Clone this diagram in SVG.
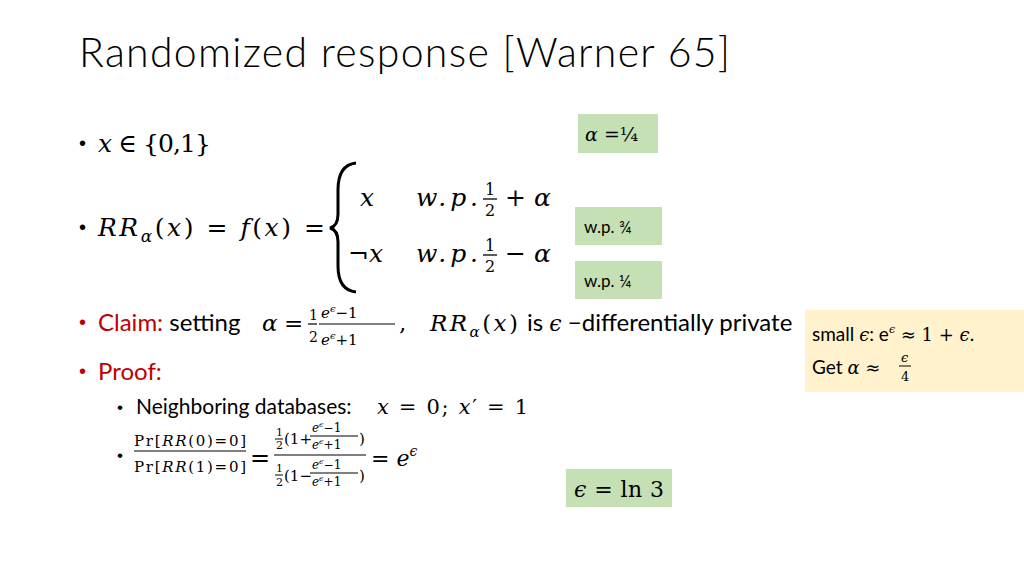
<svg xmlns="http://www.w3.org/2000/svg" width="1024" height="576" viewBox="0 0 1024 576">
<style>
.t{font-family:Lato,"Open Sans",sans-serif;fill:#000}
.m{font-family:"DejaVu Serif","Liberation Serif",serif;font-style:italic;fill:#000}
.r{font-family:"DejaVu Serif","Liberation Serif",serif;fill:#000}
.red{fill:#c00000}
.g{fill:#c5e0b4}
.bul{font-family:"Liberation Sans",sans-serif}
</style>
<rect width="1024" height="576" fill="#fff"/>
<text class="t" x="79" y="67" font-size="41" font-weight="300" textLength="651">Randomized response [Warner 65]</text>
<g id="b1" font-size="25">
<text class="bul" x="79" y="150" font-size="20">•</text>
<text x="98" y="152" textLength="113"><tspan class="m">x</tspan><tspan class="r"> ∈ {0,1}</tspan></text>
</g>
<g id="alpha"><rect class="g" x="578" y="114" width="80" height="39"/><text x="585" y="141" font-size="19"><tspan class="m">α</tspan><tspan class="r"> =¼</tspan></text></g>
<g id="b2" font-size="25">
<text class="bul" x="79" y="234" font-size="20">•</text>
<text x="98" y="236" textLength="227"><tspan class="m">RR</tspan><tspan class="m" font-size="17" dy="6">α</tspan><tspan class="r" dy="-6">(</tspan><tspan class="m">x</tspan><tspan class="r">) = </tspan><tspan class="m">f</tspan><tspan class="r">(</tspan><tspan class="m">x</tspan><tspan class="r">) =</tspan></text>
<path d="M356,163 Q338,165 338,190 L338,214 Q338,226 330,228 Q338,230 338,242 L338,266 Q338,290 356,292" fill="none" stroke="#000" stroke-width="3"/>
<text class="m" x="360" y="206">x</text>
<text class="m" x="416" y="206" textLength="62">w.p.</text>
<text class="r" x="485" y="195" font-size="16">1</text>
<line x1="483" y1="199" x2="497" y2="199" stroke="#000" stroke-width="1.3"/>
<text class="r" x="485" y="216" font-size="16">2</text>
<text x="505" y="206"><tspan class="r">+ </tspan><tspan class="m">α</tspan></text>
<text x="348" y="262"><tspan class="r">¬</tspan><tspan class="m">x</tspan></text>
<text class="m" x="416" y="262" textLength="62">w.p.</text>
<text class="r" x="485" y="251" font-size="16">1</text>
<line x1="483" y1="255" x2="497" y2="255" stroke="#000" stroke-width="1.3"/>
<text class="r" x="485" y="272" font-size="16">2</text>
<text x="505" y="262"><tspan class="r">− </tspan><tspan class="m">α</tspan></text>
</g>
<g id="wp34"><rect class="g" x="575" y="207" width="87" height="38"/><text class="t" x="584" y="233" font-size="17">w.p. ¾</text></g>
<g id="wp14"><rect class="g" x="575" y="261" width="87" height="38"/><text class="t" x="584" y="287" font-size="17">w.p. ¼</text></g>
<g id="claim" font-size="24">
<text class="bul red" x="79" y="329" font-size="20">•</text>
<text class="t" x="98" y="331"><tspan class="red">Claim:</tspan> setting</text>
<text class="m" x="262" y="331" font-size="23">α</text><text class="r" x="284" y="331" font-size="23">=</text>
<text class="r" x="309" y="320" font-size="14">1</text><line x1="308" y1="324" x2="317" y2="324" stroke="#000" stroke-width="1.2"/><text class="r" x="309" y="342" font-size="14">2</text>
<text x="321" y="318" font-size="15"><tspan class="m">e</tspan><tspan class="m" font-size="10" dy="-6">ϵ</tspan><tspan class="r" dy="6">−1</tspan></text>
<line x1="319" y1="324" x2="395" y2="324" stroke="#000" stroke-width="1.2"/>
<text x="321" y="345" font-size="15"><tspan class="m">e</tspan><tspan class="m" font-size="10" dy="-6">ϵ</tspan><tspan class="r" dy="6">+1</tspan></text>
<text class="r" x="399" y="331" font-size="23">,</text>
<text x="430" y="331" font-size="23" textLength="88"><tspan class="m">RR</tspan><tspan class="m" font-size="15" dy="6">α</tspan><tspan class="r" dy="-6">(</tspan><tspan class="m">x</tspan><tspan class="r">)</tspan></text>
<text class="t" x="527" y="331">is <tspan class="m" font-size="22">ϵ</tspan> −differentially private</text>
</g>
<g id="proof" font-size="24">
<text class="bul red" x="79" y="378" font-size="20">•</text>
<text class="t red" x="98" y="380">Proof:</text>
</g>
<g id="sub1" font-size="21">
<text class="bul" x="117" y="413" font-size="17">•</text>
<text class="t" x="136" y="414">Neighboring databases: </text>
<text x="377" y="414" font-size="21" textLength="151"><tspan class="m">x</tspan><tspan class="r"> = 0; </tspan><tspan class="m">x</tspan><tspan class="r">′ = 1</tspan></text>
</g>
<g id="sub2">
<text class="bul" x="117" y="461" font-size="17">•</text>
<text x="134" y="446" font-size="15" textLength="112"><tspan class="r">Pr[</tspan><tspan class="m">RR</tspan><tspan class="r">(0)=0]</tspan></text>
<line x1="134" y1="451" x2="246" y2="451" stroke="#000" stroke-width="1.2"/>
<text x="134" y="472" font-size="15" textLength="112"><tspan class="r">Pr[</tspan><tspan class="m">RR</tspan><tspan class="r">(1)=0]</tspan></text>
<text class="r" x="250" y="466" font-size="24">=</text>
<text class="r" x="276" y="436" font-size="11">1</text><line x1="275" y1="439" x2="283" y2="439" stroke="#000"/><text class="r" x="276" y="449" font-size="11">2</text>
<text class="r" x="284" y="444" font-size="15">(1+</text>
<text x="312" y="432" font-size="12"><tspan class="m">e</tspan><tspan class="m" font-size="8" dy="-5">ϵ</tspan><tspan class="r" dy="5">−1</tspan></text>
<line x1="310" y1="436" x2="358" y2="436" stroke="#000"/>
<text x="312" y="449" font-size="12"><tspan class="m">e</tspan><tspan class="m" font-size="8" dy="-5">ϵ</tspan><tspan class="r" dy="5">+1</tspan></text>
<text class="r" x="359" y="444" font-size="15">)</text>
<line x1="274" y1="455" x2="366" y2="455" stroke="#000" stroke-width="1.2"/>
<text class="r" x="276" y="472" font-size="11">1</text><line x1="275" y1="475" x2="283" y2="475" stroke="#000"/><text class="r" x="276" y="486" font-size="11">2</text>
<text class="r" x="284" y="481" font-size="15">(1−</text>
<text x="312" y="469" font-size="12"><tspan class="m">e</tspan><tspan class="m" font-size="8" dy="-5">ϵ</tspan><tspan class="r" dy="5">−1</tspan></text>
<line x1="310" y1="473" x2="358" y2="473" stroke="#000"/>
<text x="312" y="486" font-size="12"><tspan class="m">e</tspan><tspan class="m" font-size="8" dy="-5">ϵ</tspan><tspan class="r" dy="5">+1</tspan></text>
<text class="r" x="359" y="481" font-size="15">)</text>
<text x="371" y="466" font-size="22"><tspan class="r">= </tspan><tspan class="m">e</tspan><tspan class="m" font-size="14" dy="-10">ϵ</tspan></text>
</g>
<g id="ln3"><rect class="g" x="566" y="469" width="106" height="38"/><text x="574" y="497" font-size="22" textLength="90"><tspan class="m">ϵ</tspan><tspan class="r"> = ln 3</tspan></text></g>
<g id="note">
<rect x="805" y="310" width="219" height="82" fill="#fff2cc"/>
<text class="t" x="812" y="341" font-size="19">small <tspan class="m" font-size="18">ϵ</tspan>: e<tspan font-size="11" dy="-8" class="m">ϵ</tspan><tspan dy="8" class="r" font-size="18"> ≈ 1 + </tspan><tspan class="m" font-size="18">ϵ</tspan>.</text>
<text class="t" x="812" y="374" font-size="19">Get <tspan class="m" font-size="18">α</tspan><tspan class="r" font-size="18"> ≈</tspan></text>
<text class="m" x="901" y="362" font-size="13">ϵ</text><line x1="899" y1="366" x2="911" y2="366" stroke="#000"/><text class="r" x="901" y="381" font-size="13">4</text>
</g>
</svg>
